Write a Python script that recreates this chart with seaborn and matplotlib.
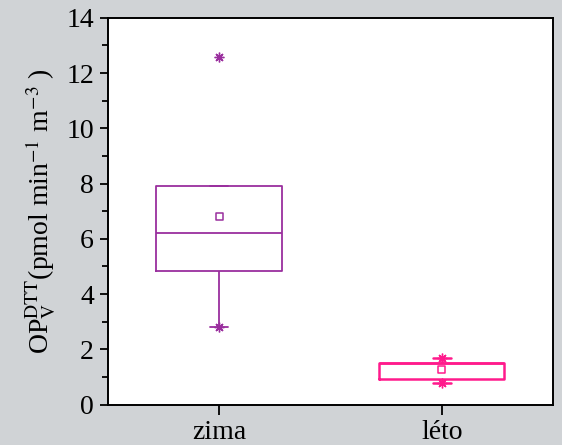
import numpy as np
import pandas as pd
import matplotlib
matplotlib.use("Agg")
import matplotlib.pyplot as plt
from matplotlib.ticker import MultipleLocator
import seaborn as sns

# values
seasons = ["zima", "léto"]
q1 = [4.82, 0.93]
median = [6.2, 1.5]
q3 = [7.9, 1.5]
mean = [6.82, 1.28]
vmin = [2.8, 0.78]
vmax = [12.57, 1.68]
colors = ["#9a2f9e", "#ff1a8c"]

# five-number summary per season -> seaborn computes the box from it
rows = []
for i, s in enumerate(seasons):
    for v in [vmin[i], q1[i], median[i], q3[i], vmax[i]]:
        rows.append({"season": s, "value": v})
df = pd.DataFrame(rows)
stats = pd.DataFrame({"season": seasons, "mean": mean})

sns.set_style("ticks")
plt.rcParams["font.family"] = ["Liberation Serif", "STIXGeneral", "DejaVu Serif"]
plt.rcParams["mathtext.fontset"] = "stix"
plt.rcParams["text.color"] = "black"
plt.rcParams["axes.labelcolor"] = "black"
plt.rcParams["xtick.color"] = "black"
plt.rcParams["ytick.color"] = "black"

fig = plt.figure(figsize=(5.62, 4.45), dpi=100, facecolor="#d0d3d6")
ax = fig.add_axes([0.192, 0.091, 0.792, 0.869])
ax.set_facecolor("white")

sns.boxplot(data=df, x="season", y="value", hue="season", palette=colors,
            order=seasons, fill=False, width=0.564, linewidth=1.3,
            showfliers=False, whis=1.5, legend=False, ax=ax, capwidths=0.08)
# summer box drawn a bit heavier, as in the original
for ln in ax.lines:
    if ln.get_color() == colors[1]:
        ln.set_linewidth(1.8)
for p in ax.patches:
    if matplotlib.colors.to_hex(p.get_edgecolor()) == colors[1]:
        p.set_linewidth(1.8)

# mean squares
sns.scatterplot(data=stats, x="season", y="mean", hue="season", palette=colors,
                marker="s", s=25, linewidth=1.1, legend=False, ax=ax, zorder=5)
for c in ax.collections:
    c.set_edgecolor(colors)
    c.set_facecolor("white")
# min / max stars
for i, s in enumerate(seasons):
    for v in (vmin[i], vmax[i]):
        ax.plot([i], [v], marker=(8, 2, 0), ms=7, color=colors[i],
                mew=1.0, zorder=5)

ax.set_xlim(-0.5, 1.5)
ax.set_ylim(0, 14)
ax.yaxis.set_major_locator(MultipleLocator(2))
ax.yaxis.set_minor_locator(MultipleLocator(1))
ax.tick_params(axis="both", which="major", length=6, width=1.3,
               labelsize=20, color="black", labelcolor="black", pad=4)
ax.tick_params(axis="x", which="major", length=7, pad=4)
ax.tick_params(axis="y", which="minor", length=4, width=1.3)
ax.tick_params(top=False, right=False)
for sp in ax.spines.values():
    sp.set_visible(True)
    sp.set_linewidth(1.4)
    sp.set_color("black")

ax.set_xlabel("")
ax.set_ylabel(r"OP$_\mathrm{V}^\mathrm{DTT}$(pmol min$^\mathrm{-1}$ m$^\mathrm{-3}$ )",
              fontsize=20, labelpad=6, color="black")

fig.savefig("out.png", dpi=100, facecolor=fig.get_facecolor())
